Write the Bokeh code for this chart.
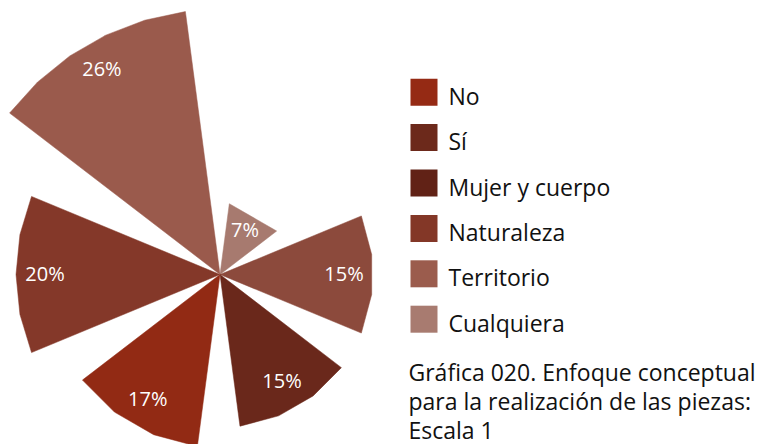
import math
from bokeh.plotting import figure
from bokeh.models import Range1d, ColumnDataSource
from bokeh.core.properties import value
from bokeh.embed import file_html
from bokeh.resources import INLINE

# ---------------- data ----------------
categories = ["No", "Sí", "Mujer y cuerpo", "Naturaleza", "Territorio", "Cualquiera"]
percentages = [17, 15, 15, 20, 26, 7]
legend_colors = ["#952A14", "#6C291B", "#612216", "#833727", "#9B5C4D", "#A87B70"]
slice_colors = ["#922A14", "#6A281B", "#8C4A3C", "#843829", "#9A5A4C", "#A77A6F"]
# order of the sectors, clockwise, starting with the one at upper right
slice_order = ["Cualquiera", "Mujer y cuerpo", "Sí", "No", "Naturaleza", "Territorio"]
caption_lines = ["Gráfica 020. Enfoque conceptual",
                 "para la realización de las piezas:",
                 "Escala 1"]

# ---------------- layout ----------------
W, H = 767, 444
CX, CY = 219.5, 274.0          # centre of the rose (px, y downwards)
PX_PER_PCT = 10.2
FIRST_CENTER = 60.0            # degrees, counter-clockwise from east
STEP = 60.0
SPAN = 45.0
SEG_LEN = 45.0
FONT = "Open Sans"

p = figure(width=W, height=H, output_backend="svg", toolbar_location=None,
           x_range=Range1d(0, W), y_range=Range1d(H, 0),
           x_axis_type=None, y_axis_type=None, min_border=0,
           outline_line_color=None, background_fill_color="white",
           border_fill_color="white")
p.grid.visible = False

xs, ys, fills, lx, ly, ltxt = [], [], [], [], [], []
for i, name in enumerate(slice_order):
    k = categories.index(name)
    v = percentages[k]
    r = v * PX_PER_PCT
    c = FIRST_CENTER - STEP * i
    a0, a1 = c - SPAN / 2, c + SPAN / 2
    n = max(1, round(r * math.radians(SPAN) / SEG_LEN))
    px, py = [CX], [CY]
    for j in range(n + 1):
        a = math.radians(a0 + (a1 - a0) * j / n)
        px.append(CX + r * math.cos(a))
        py.append(CY - r * math.sin(a))
    xs.append(px)
    ys.append(py)
    fills.append(slice_colors[k])
    rl = max(r - 29, 0.7 * r)
    lx.append(CX + rl * math.cos(math.radians(c)))
    ly.append(CY - rl * math.sin(math.radians(c)) - 1.5)
    ltxt.append(f"{v}%")

p.patches(xs=xs, ys=ys, fill_color=fills, line_color=fills, line_width=0.5)
p.text(x=lx, y=ly, text=ltxt, text_color="white", text_font=value(FONT),
       text_font_size="20px", text_align="center", text_baseline="middle")

# legend
BOX_X, BOX_Y0, BOX_STEP, BOX = 423.5, 91.7, 45.4, 27
TXT_X, TXT_DY = 448, 3.5
src = ColumnDataSource(dict(
    x=[BOX_X] * len(categories),
    y=[BOX_Y0 + BOX_STEP * i for i in range(len(categories))],
    ty=[BOX_Y0 + BOX_STEP * i + TXT_DY for i in range(len(categories))],
    tx=[TXT_X] * len(categories),
    color=legend_colors, label=categories))
p.rect(x="x", y="y", width=BOX, height=BOX, fill_color="color",
       line_color=None, source=src)
p.text(x="tx", y="ty", text="label", text_color="#111111",
       text_font=value(FONT), text_font_size="23px",
       text_align="left", text_baseline="middle", source=src)

# caption
CAP_X, CAP_Y0, CAP_STEP = 408, 371.0, 29.0
p.text(x=[CAP_X] * len(caption_lines),
       y=[CAP_Y0 + CAP_STEP * i for i in range(len(caption_lines))],
       text=caption_lines, text_color="#111111", text_font=value(FONT),
       text_font_size="23px", text_align="left", text_baseline="middle")

open("out.html", "w").write(file_html(p, INLINE))
